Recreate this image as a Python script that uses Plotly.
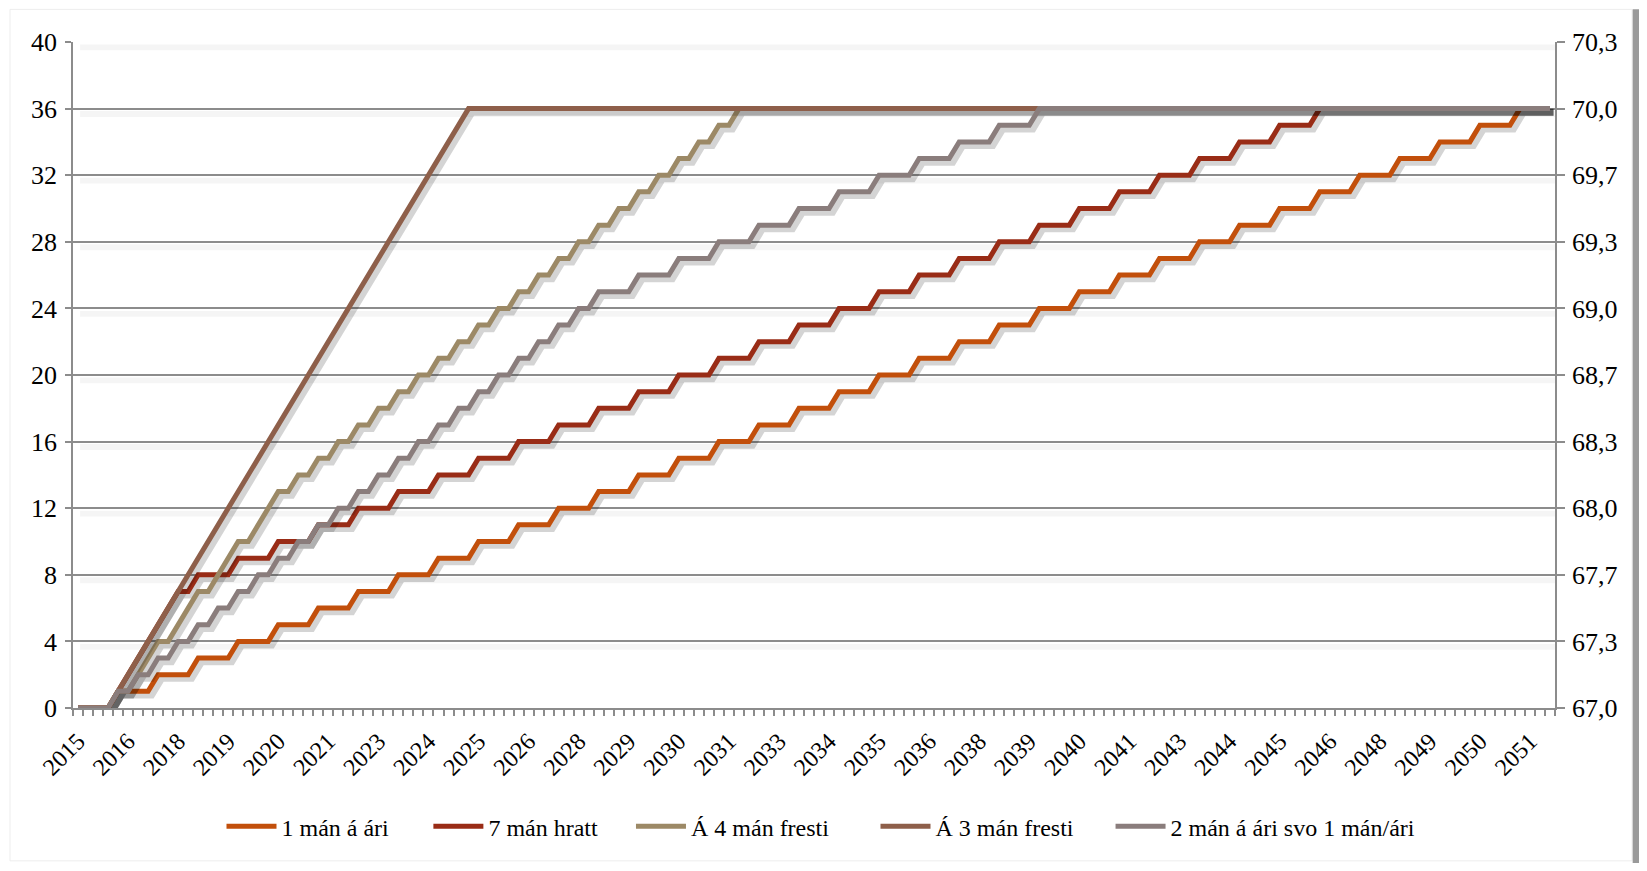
import plotly.graph_objects as go

# ---------------- data (quarterly, first category = 2015 Q3) ----------------
year_labels = ["2015", "2016", "2018", "2019", "2020", "2021", "2023", "2024", "2025", "2026",
               "2028", "2029", "2030", "2031", "2033", "2034", "2035", "2036", "2038", "2039",
               "2040", "2041", "2043", "2044", "2045", "2046", "2048", "2049", "2050", "2051"]

series_names = ["1 mán á ári", "7 mán hratt", "Á 4 mán fresti", "Á 3 mán fresti",
                "2 mán á ári svo 1 mán/ári"]

one_per_year = [0, 0, 0, 0, 1, 1, 1, 1, 2, 2, 2, 2, 3, 3, 3, 3, 4, 4, 4, 4,
                5, 5, 5, 5, 6, 6, 6, 6, 7, 7, 7, 7, 8, 8, 8, 8, 9, 9, 9, 9,
                10, 10, 10, 10, 11, 11, 11, 11, 12, 12, 12, 12, 13, 13, 13, 13,
                14, 14, 14, 14, 15, 15, 15, 15, 16, 16, 16, 16, 17, 17, 17, 17,
                18, 18, 18, 18, 19, 19, 19, 19, 20, 20, 20, 20, 21, 21, 21, 21,
                22, 22, 22, 22, 23, 23, 23, 23, 24, 24, 24, 24, 25, 25, 25, 25,
                26, 26, 26, 26, 27, 27, 27, 27, 28, 28, 28, 28, 29, 29, 29, 29,
                30, 30, 30, 30, 31, 31, 31, 31, 32, 32, 32, 32, 33, 33, 33, 33,
                34, 34, 34, 34, 35, 35, 35, 35, 36, 36, 36, 36]

seven_fast = [0, 0, 0, 0, 1, 2, 3, 4, 5, 6, 7, 7, 8, 8, 8, 8, 9, 9, 9, 9,
              10, 10, 10, 10, 11, 11, 11, 11, 12, 12, 12, 12, 13, 13, 13, 13,
              14, 14, 14, 14, 15, 15, 15, 15, 16, 16, 16, 16, 17, 17, 17, 17,
              18, 18, 18, 18, 19, 19, 19, 19, 20, 20, 20, 20, 21, 21, 21, 21,
              22, 22, 22, 22, 23, 23, 23, 23, 24, 24, 24, 24, 25, 25, 25, 25,
              26, 26, 26, 26, 27, 27, 27, 27, 28, 28, 28, 28, 29, 29, 29, 29,
              30, 30, 30, 30, 31, 31, 31, 31, 32, 32, 32, 32, 33, 33, 33, 33,
              34, 34, 34, 34, 35, 35, 35, 35, 36, 36, 36, 36, 36, 36, 36, 36,
              36, 36, 36, 36, 36, 36, 36, 36, 36, 36, 36, 36, 36, 36, 36, 36,
              36, 36, 36, 36]

every_4_months = [0, 0, 0, 0, 1, 1, 2, 3, 4, 4, 5, 6, 7, 7, 8, 9, 10, 10, 11, 12,
                  13, 13, 14, 14, 15, 15, 16, 16, 17, 17, 18, 18, 19, 19, 20, 20,
                  21, 21, 22, 22, 23, 23, 24, 24, 25, 25, 26, 26, 27, 27, 28, 28,
                  29, 29, 30, 30, 31, 31, 32, 32, 33, 33, 34, 34, 35, 35, 36, 36,
                  36, 36, 36, 36, 36, 36, 36, 36, 36, 36, 36, 36, 36, 36, 36, 36,
                  36, 36, 36, 36, 36, 36, 36, 36, 36, 36, 36, 36, 36, 36, 36, 36,
                  36, 36, 36, 36, 36, 36, 36, 36, 36, 36, 36, 36, 36, 36, 36, 36,
                  36, 36, 36, 36, 36, 36, 36, 36, 36, 36, 36, 36, 36, 36, 36, 36,
                  36, 36, 36, 36, 36, 36, 36, 36, 36, 36, 36, 36, 36, 36, 36, 36,
                  36, 36, 36, 36, 36, 36, 36, 36]

every_3_months = [0, 0, 0, 0, 1, 2, 3, 4, 5, 6, 7, 8, 9, 10, 11, 12, 13, 14, 15, 16,
                  17, 18, 19, 20, 21, 22, 23, 24, 25, 26, 27, 28, 29, 30, 31, 32,
                  33, 34, 35, 36, 36, 36, 36, 36, 36, 36, 36, 36, 36, 36, 36, 36,
                  36, 36, 36, 36, 36, 36, 36, 36, 36, 36, 36, 36, 36, 36, 36, 36,
                  36, 36, 36, 36, 36, 36, 36, 36, 36, 36, 36, 36, 36, 36, 36, 36,
                  36, 36, 36, 36, 36, 36, 36, 36, 36, 36, 36, 36, 36, 36, 36, 36,
                  36, 36, 36, 36, 36, 36, 36, 36, 36, 36, 36, 36, 36, 36, 36, 36,
                  36, 36, 36, 36, 36, 36, 36, 36, 36, 36, 36, 36, 36, 36, 36, 36,
                  36, 36, 36, 36, 36, 36, 36, 36, 36, 36, 36, 36, 36, 36, 36, 36,
                  36, 36, 36, 36, 36, 36, 36, 36]

two_then_one = [0, 0, 0, 0, 1, 1, 2, 2, 3, 3, 4, 4, 5, 5, 6, 6, 7, 7, 8, 8,
                9, 9, 10, 10, 11, 11, 12, 12, 13, 13, 14, 14, 15, 15, 16, 16,
                17, 17, 18, 18, 19, 19, 20, 20, 21, 21, 22, 22, 23, 23, 24, 24,
                25, 25, 25, 25, 26, 26, 26, 26, 27, 27, 27, 27, 28, 28, 28, 28,
                29, 29, 29, 29, 30, 30, 30, 30, 31, 31, 31, 31, 32, 32, 32, 32,
                33, 33, 33, 33, 34, 34, 34, 34, 35, 35, 35, 35, 36, 36, 36, 36,
                36, 36, 36, 36, 36, 36, 36, 36, 36, 36, 36, 36, 36, 36, 36, 36,
                36, 36, 36, 36, 36, 36, 36, 36, 36, 36, 36, 36, 36, 36, 36, 36,
                36, 36, 36, 36, 36, 36, 36, 36, 36, 36, 36, 36, 36, 36, 36, 36,
                36, 36, 36, 36]

left_ticks = [0, 4, 8, 12, 16, 20, 24, 28, 32, 36, 40]
right_tick_labels = ["67,0", "67,3", "67,7", "68,0", "68,3", "68,7", "69,0", "69,3",
                     "69,7", "70,0", "70,3"]

# ---------------- styling ----------------
colors = ["#C24F0B", "#992C16", "#9C8966", "#8E5F4A", "#8A7D7C"]
FONT = "Liberation Serif, Times New Roman, DejaVu Serif, serif"
GRID = "#8C8C8C"
legend_ids = ["legend", "legend2", "legend3", "legend4", "legend5"]
legend_x = [0.1002, 0.2398, 0.3765, 0.5415, 0.7001]

all_series = [one_per_year, seven_fast, every_4_months, every_3_months, two_then_one]
n = len(one_per_year)
xs = list(range(n))

fig = go.Figure()
for name, vals, col, lg in zip(series_names, all_series, colors, legend_ids):
    # soft drop shadow (Excel style)
    fig.add_trace(go.Scatter(
        x=[x + 0.35 for x in xs], y=[v - 0.22 for v in vals], mode="lines",
        line=dict(color="rgba(0,0,0,0.17)", width=7), showlegend=False,
        hoverinfo="skip"))
    fig.add_trace(go.Scatter(
        x=xs, y=vals, mode="lines", name=name, legend=lg,
        line=dict(color=col, width=5)))

# invisible trace to carry the right axis
fig.add_trace(go.Scatter(x=[xs[0]], y=[0], yaxis="y2", mode="lines",
                         line=dict(width=0), showlegend=False, hoverinfo="skip"))

shapes = []
for g in left_ticks[1:]:
    shapes.append(dict(type="rect", xref="x", yref="y", x0=0.2, x1=n - 0.5,
                       y0=g - 0.5, y1=g - 0.15, fillcolor="rgba(0,0,0,0.04)",
                       line=dict(width=0), layer="below"))
# chart-area frame and its right-hand shadow
shapes.append(dict(type="rect", xref="paper", yref="paper", x0=-0.0425, x1=1.0520,
                   y0=-0.2295, y1=1.049, line=dict(color="#EDEDED", width=1),
                   layer="below"))
shapes.append(dict(type="rect", xref="paper", yref="paper", x0=1.0524, x1=1.0567,
                   y0=-0.2327, y1=1.049, fillcolor="#9A9A9A",
                   line=dict(width=0), layer="above"))

leg_common = dict(orientation="h", xanchor="left", y=-0.178, yanchor="middle",
                  font=dict(family=FONT, size=24), itemwidth=50,
                  bgcolor="rgba(0,0,0,0)")
legends = {lg: dict(leg_common, x=lx) for lg, lx in zip(legend_ids, legend_x)}

fig.update_layout(
    width=1631, height=855,
    margin=dict(l=65, r=84, t=34, b=155),
    paper_bgcolor="white", plot_bgcolor="white",
    font=dict(family=FONT, size=22, color="black"),
    showlegend=True,
    xaxis=dict(range=[-0.5, n - 0.5], tickmode="array",
               tickvals=list(range(0, n, 5))[:len(year_labels)], ticktext=year_labels,
               tickangle=-45, tickfont=dict(family=FONT, size=24),
               showgrid=False, zeroline=False, showline=True, linecolor=GRID,
               linewidth=1.5, ticks="", ticklabelstandoff=8,
               minor=dict(tickvals=[i - 0.5 for i in range(n + 1)], ticks="outside",
                          ticklen=6, tickcolor=GRID, tickwidth=1.5, showgrid=False)),
    yaxis=dict(range=[0, 40], tickmode="array", tickvals=left_ticks,
               tickfont=dict(family=FONT, size=26),
               showgrid=True, gridcolor=GRID, gridwidth=1.5, zeroline=False,
               showline=True, linecolor=GRID, linewidth=1.5,
               ticks="outside", ticklen=6, tickcolor=GRID, tickwidth=1.5,
               ticklabelstandoff=3),
    yaxis2=dict(range=[0, 40], overlaying="y", side="right", tickmode="array",
                tickvals=left_ticks, ticktext=right_tick_labels,
                tickfont=dict(family=FONT, size=26),
                showgrid=False, zeroline=False, showline=True, linecolor=GRID,
                linewidth=1.5, ticks="outside", ticklen=8, tickcolor=GRID,
                tickwidth=1.5, ticklabelstandoff=2),
    shapes=shapes,
    **legends,
)

fig.write_html("out.html")
